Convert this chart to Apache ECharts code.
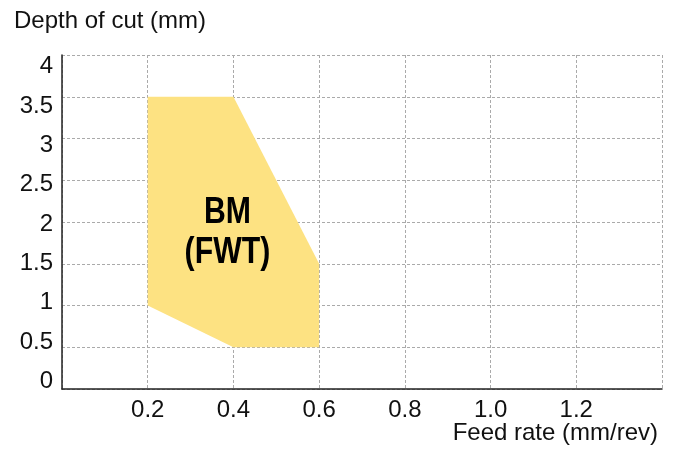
<!DOCTYPE html>
<html>
<head>
<meta charset="utf-8">
<script src="https://cdn.jsdelivr.net/npm/echarts@6/dist/echarts.min.js"></script>
<style>html,body{margin:0;padding:0;background:#fff}#c{width:676px;height:449px}</style>
</head>
<body>
<div id="c"></div>
<script>
// Region boundary (feed rate mm/rev, depth of cut mm)
var regionFeed  = [0.2, 0.2, 0.4, 0.6, 0.6, 0.4];
var regionDepth = [1.0, 3.5, 3.5, 1.5, 0.5, 0.5];
var regionName = 'BM\n(FWT)';
var regionLabelAt = [0.386, 1.87];
var xTicks = [0.2, 0.4, 0.6, 0.8, 1.0, 1.2];
var yTicks = [0, 0.5, 1, 1.5, 2, 2.5, 3, 3.5, 4];
var xTitle = 'Feed rate (mm/rev)';
var yTitle = 'Depth of cut (mm)';

var pts = regionFeed.map(function (x, i) { return [x, regionDepth[i]]; });
var font = '"Liberation Sans", Arial, Helvetica, sans-serif';

var chart = echarts.init(document.getElementById('c'), null, {renderer: 'canvas'});
chart.setOption({
  animation: false,
  backgroundColor: '#fff',
  grid: [
    {left: 62, right: 14, top: 55, bottom: 60, containLabel: false},
    {left: 62, width: 1, top: 66.5, bottom: 67.5, containLabel: false}
  ],
  xAxis: [{
    type: 'value', min: 0, max: 1.4, interval: 0.2, gridIndex: 0,
    axisLine: {show: true, onZero: false, lineStyle: {color: '#222', width: 1.5}},
    axisTick: {show: false},
    splitLine: {show: true, lineStyle: {color: '#aaa', type: [3, 2], width: 1}},
    axisLabel: {
      margin: 9, fontSize: 24, color: '#111', fontFamily: font,
      formatter: function (v) {
        var r = Math.round(v * 10) / 10;
        return xTicks.indexOf(r) >= 0 ? r.toFixed(1) : '';
      }
    }
  }, {
    type: 'value', gridIndex: 1, show: false, min: 0, max: 1
  }],
  yAxis: [{
    type: 'value', min: 0, max: 4, interval: 0.5, gridIndex: 0,
    axisLine: {show: true, lineStyle: {color: '#222', width: 1.5}},
    axisTick: {show: false},
    axisLabel: {show: false},
    splitLine: {show: true, lineStyle: {color: '#aaa', type: [3, 2], width: 1}}
  }, {
    type: 'value', min: 0, max: 4, interval: 0.5, gridIndex: 1,
    axisLine: {show: false}, axisTick: {show: false}, splitLine: {show: false},
    axisLabel: {
      margin: 9, fontSize: 24, color: '#111', fontFamily: font,
      formatter: function (v) { return yTicks.indexOf(v) >= 0 ? String(v) : ''; }
    }
  }],
  graphic: [
    {type: 'text', left: 14, top: 9, style: {text: yTitle, fontSize: 24, fill: '#111', fontFamily: font}},
    {type: 'text', right: 18, top: 421, style: {text: xTitle, fontSize: 24, fill: '#111', fontFamily: font}}
  ],
  series: [{
    type: 'custom',
    xAxisIndex: 0, yAxisIndex: 0,
    data: [0],
    z: 1,
    silent: true,
    renderItem: function (params, api) {
      var c = api.coord(regionLabelAt);
      return {
        type: 'group',
        children: [{
          type: 'polygon',
          shape: {points: pts.map(function (p) { return api.coord(p); })},
          style: {fill: '#fde282', stroke: null}
        }, {
          type: 'text',
          x: c[0], y: c[1],
          scaleX: 0.84,
          style: {
            text: regionName, x: 0, y: 0,
            align: 'center', verticalAlign: 'middle',
            fontSize: 36, fontWeight: 'bold', fill: '#000', lineHeight: 40,
            fontFamily: font
          }
        }]
      };
    }
  }]
});
</script>
</body>
</html>
